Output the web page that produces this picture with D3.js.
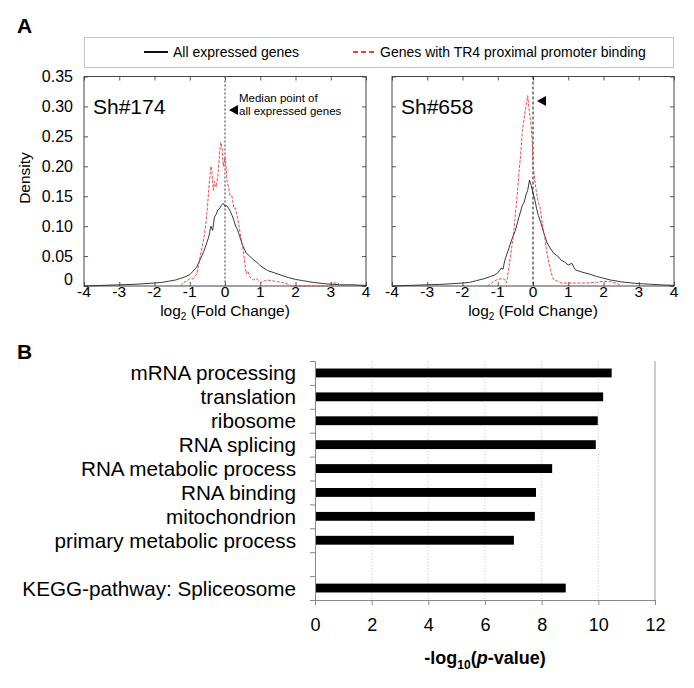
<!DOCTYPE html>
<html>
<head>
<meta charset="utf-8">
<script src="https://cdn.jsdelivr.net/npm/d3@7"></script>
<style>
  body { margin: 0; background: #fff; }
  svg { font-family: "Liberation Sans", Arial, sans-serif; display: block; }
</style>
</head>
<body>
<div id="chart"></div>
<script>
// ---- data ----
let densityTicks = [0, 0.05, 0.10, 0.15, 0.20, 0.25, 0.30, 0.35];
let foldTicks = [-4, -3, -2, -1, 0, 1, 2, 3, 4];

let sh174All = [[-4,0],[-3.5,0.001],[-3,0.002],[-2.5,0.003],[-2,0.005],[-1.8,0.006],[-1.6,0.008],[-1.4,0.01],[-1.3,0.012],[-1.2,0.014],
  [-1.1,0.016],[-1.0,0.019],[-0.9,0.025],[-0.8,0.032],[-0.7,0.045],[-0.6,0.058],[-0.5,0.075],[-0.45,0.085],[-0.4,0.1],[-0.35,0.093],
  [-0.3,0.115],[-0.25,0.12],[-0.2,0.127],[-0.15,0.13],[-0.1,0.135],[-0.05,0.138],[0,0.133],[0.05,0.134],[0.1,0.13],[0.15,0.125],
  [0.2,0.118],[0.25,0.11],[0.3,0.1],[0.35,0.095],[0.4,0.086],[0.5,0.068],[0.6,0.055],[0.7,0.05],[0.8,0.044],[0.9,0.04],
  [1.0,0.034],[1.2,0.026],[1.4,0.022],[1.6,0.018],[1.8,0.014],[2.0,0.011],[2.2,0.009],[2.5,0.006],[2.8,0.004],[3.0,0.003],
  [3.3,0.002],[3.6,0.002],[4,0.001]];
let sh174TR4 = [[-1.25,0],[-1.2,0.005],[-1.1,0.008],[-1.0,0.012],[-0.9,0.012],[-0.8,0.02],[-0.75,0.035],[-0.7,0.05],[-0.65,0.065],[-0.6,0.08],
  [-0.55,0.1],[-0.5,0.13],[-0.45,0.17],[-0.4,0.2],[-0.37,0.19],[-0.33,0.16],[-0.3,0.175],[-0.25,0.165],[-0.2,0.185],[-0.15,0.225],
  [-0.12,0.24],[-0.08,0.23],[-0.05,0.2],[0,0.215],[0.03,0.2],[0.06,0.175],[0.1,0.165],[0.15,0.15],[0.2,0.15],[0.25,0.13],
  [0.3,0.13],[0.35,0.115],[0.4,0.1],[0.45,0.08],[0.5,0.065],[0.55,0.045],[0.6,0.02],[0.65,0.025],[0.7,0.015],[0.8,0.01],
  [0.9,0.012],[1.0,0.006],[1.1,0.008],[1.2,0.01],[1.4,0.008],[1.6,0.006],[1.8,0.003],[1.9,0],[2.9,0],[3.0,0.005],[3.2,0.005],[3.3,0]];
let sh658All = [[-4,0],[-3.5,0.001],[-3,0.002],[-2.5,0.003],[-2,0.005],[-1.8,0.006],[-1.6,0.009],[-1.4,0.012],[-1.2,0.016],[-1.1,0.018],
  [-1.0,0.022],[-0.9,0.03],[-0.85,0.028],[-0.8,0.043],[-0.7,0.06],[-0.6,0.078],[-0.5,0.093],[-0.4,0.115],[-0.3,0.135],[-0.25,0.14],
  [-0.2,0.152],[-0.15,0.16],[-0.1,0.177],[-0.05,0.168],[0,0.155],[0.05,0.145],[0.1,0.13],[0.15,0.118],[0.2,0.11],[0.3,0.09],
  [0.4,0.072],[0.5,0.062],[0.6,0.054],[0.7,0.05],[0.8,0.043],[0.9,0.04],[1.0,0.035],[1.1,0.038],[1.2,0.027],[1.4,0.023],
  [1.6,0.02],[1.8,0.016],[2.0,0.013],[2.2,0.01],[2.5,0.007],[2.8,0.005],[3.0,0.004],[3.3,0.003],[3.6,0.002],[4,0.001]];
let sh658TR4 = [[-1.3,0],[-1.2,0.004],[-1.1,0.008],[-1.0,0.011],[-0.9,0.012],[-0.8,0.011],[-0.75,0.005],[-0.7,0.025],[-0.65,0.045],[-0.6,0.066],
  [-0.55,0.09],[-0.5,0.12],[-0.45,0.15],[-0.4,0.188],[-0.35,0.22],[-0.3,0.26],[-0.25,0.28],[-0.2,0.3],[-0.15,0.318],[-0.12,0.3],
  [-0.1,0.29],[-0.05,0.266],[-0.02,0.24],[0,0.204],[0.05,0.177],[0.1,0.155],[0.15,0.14],[0.2,0.132],[0.25,0.11],[0.3,0.093],
  [0.35,0.075],[0.4,0.054],[0.45,0.04],[0.5,0.027],[0.55,0.015],[0.6,0.01],[0.7,0.008],[0.8,0.005],[1.0,0.005],[1.2,0.005],
  [1.5,0.005],[1.8,0.006],[2.0,0.008],[2.2,0.007],[2.4,0.004],[2.5,0]];

let legendLabels = ['All expressed genes', 'Genes with TR4 proximal promoter binding'];

let terms = ['mRNA processing', 'translation', 'ribosome', 'RNA splicing', 'RNA metabolic process',
             'RNA binding', 'mitochondrion', 'primary metabolic process', '', 'KEGG-pathway: Spliceosome'];
let pValues = [10.47, 10.17, 9.98, 9.91, 8.37, 7.8, 7.76, 7.02, null, 8.85];
let pTicks = [0, 2, 4, 6, 8, 10, 12];

const W = 694, H = 688;
const svg = d3.select('#chart').append('svg').attr('width', W).attr('height', H);

// ---- panel A ----
svg.append('text').attr('x', 17).attr('y', 33).style('font-size', '21px').style('font-weight', 'bold').text('A');

// legend box
let lg = svg.append('g');
lg.append('rect').attr('x', 84.5).attr('y', 37.5).attr('width', 589).attr('height', 30)
  .attr('fill', 'none').attr('stroke', '#c4c4c4');
lg.append('line').attr('x1', 144).attr('x2', 168).attr('y1', 52).attr('y2', 52)
  .attr('stroke', '#111').attr('stroke-width', 2);
lg.append('text').attr('x', 173).attr('y', 57).style('font-size', '14px').text(legendLabels[0]);
lg.append('line').attr('x1', 353).attr('x2', 377).attr('y1', 52).attr('y2', 52)
  .attr('stroke', '#e8412c').attr('stroke-width', 2).attr('stroke-dasharray', '5,3');
lg.append('text').attr('x', 380).attr('y', 57).style('font-size', '14px').text(legendLabels[1]);

const yTop = 76.5, yBot = 286;
let yDen = d3.scaleLinear().domain([0, 0.35]).range([yBot, yTop]);

function drawPanel(x0, x1, allData, tr4Data, name, showY, medianStyle) {
  let xs = d3.scaleLinear().domain([-4, 4]).range([x0, x1]);
  let g = svg.append('g');

  // inward ticks on all four sides
  g.append('g').attr('transform', `translate(0,${yBot})`)
    .call(d3.axisBottom(xs).tickValues(foldTicks).tickSize(-4).tickFormat(''))
    .call(a => a.select('.domain').remove());
  g.append('g').attr('transform', `translate(0,${yTop})`)
    .call(d3.axisTop(xs).tickValues(foldTicks).tickSize(-4).tickFormat(''))
    .call(a => a.select('.domain').remove());
  g.append('g').attr('transform', `translate(${x0},0)`)
    .call(d3.axisLeft(yDen).tickValues(densityTicks).tickSize(-4).tickFormat(''))
    .call(a => a.select('.domain').remove());
  g.append('g').attr('transform', `translate(${x1},0)`)
    .call(d3.axisRight(yDen).tickValues(densityTicks).tickSize(-4).tickFormat(''))
    .call(a => a.select('.domain').remove());
  g.selectAll('.tick line').attr('stroke', '#555');

  g.append('rect').attr('x', x0).attr('y', yTop).attr('width', x1 - x0).attr('height', yBot - yTop)
    .attr('fill', 'none').attr('stroke', '#444');

  // x tick labels
  g.selectAll('.xl').data(foldTicks).enter().append('text')
    .attr('x', d => xs(d)).attr('y', yBot + 11)
    .attr('text-anchor', 'middle').style('font-size', '15.5px')
    .text(d => d < 0 ? '-' + Math.abs(d) : d);

  if (showY) {
    g.selectAll('.yl').data(densityTicks).enter().append('text')
      .attr('x', x0 - 11).attr('y', d => yDen(d) + 5.5 - (d === 0 ? 7 : 0))
      .attr('text-anchor', 'end').style('font-size', '16px')
      .text(d => d === 0 ? '0' : d.toFixed(2));
  }

  // median line
  g.append('line').attr('x1', xs(0)).attr('x2', xs(0)).attr('y1', yTop).attr('y2', yBot)
    .attr('stroke', medianStyle.color).attr('stroke-width', medianStyle.width)
    .attr('stroke-dasharray', medianStyle.dash);

  let line = d3.line().x(d => xs(d[0])).y(d => yDen(d[1]));
  g.append('path').datum(allData).attr('d', line)
    .attr('fill', 'none').attr('stroke', '#222').attr('stroke-width', 0.9);
  g.append('path').datum(tr4Data).attr('d', line)
    .attr('fill', 'none').attr('stroke', '#e53935').attr('stroke-width', 0.9)
    .attr('stroke-dasharray', '3,1.5');

  g.append('text').attr('x', x0 + 9).attr('y', 114).style('font-size', '21px').text(name);

  let xt = g.append('text').attr('x', (x0 + x1) / 2).attr('y', 316)
    .attr('text-anchor', 'middle').style('font-size', '15.5px');
  xt.append('tspan').text('log');
  xt.append('tspan').attr('dy', 4).style('font-size', '10px').text('2');
  xt.append('tspan').attr('dy', -4).text(' (Fold Change)');
  return xs;
}

let xsL = drawPanel(84, 366, sh174All, sh174TR4, 'Sh#174', true, { color: '#777', width: 1.5, dash: '2,2' });
let xsR = drawPanel(392, 674, sh658All, sh658TR4, 'Sh#658', false, { color: '#111', width: 1, dash: '3,2' });

svg.append('text').attr('transform', 'translate(30,178) rotate(-90)')
  .attr('text-anchor', 'middle').style('font-size', '15.5px').text('Density');

// median arrow + note
svg.append('path').attr('d', `M${xsL(0) + 4},110 L${xsL(0) + 13},105 L${xsL(0) + 13},115 Z`).attr('fill', '#000');
svg.append('text').attr('x', 239).attr('y', 102).style('font-size', '11.5px').text('Median point of');
svg.append('text').attr('x', 239).attr('y', 115).style('font-size', '11.5px').text('all expressed genes');
svg.append('path').attr('d', `M${xsR(0) + 4},101 L${xsR(0) + 13},96 L${xsR(0) + 13},106 Z`).attr('fill', '#000');

// ---- panel B ----
svg.append('text').attr('x', 17).attr('y', 359).style('font-size', '21px').style('font-weight', 'bold').text('B');

const bx0 = 315, bx1 = 655, by0 = 361, by1 = 600;
let xb = d3.scaleLinear().domain([0, 12]).range([bx0, bx1]);
let yb = d3.scaleBand().domain(d3.range(terms.length)).range([by0, by1]).paddingInner(0.63).paddingOuter(0.315);

// dotted grid
svg.append('g').selectAll('line').data(pTicks.filter(d => d > 0 && d < 12)).enter().append('line')
  .attr('x1', d => xb(d)).attr('x2', d => xb(d)).attr('y1', by0).attr('y2', by1)
  .attr('stroke', '#ccc').attr('stroke-dasharray', '1,2');
svg.append('line').attr('x1', bx1).attr('x2', bx1).attr('y1', by0).attr('y2', by1).attr('stroke', '#999');

svg.append('g').selectAll('rect').data(pValues.map((v, i) => [i, v]).filter(d => d[1] !== null)).enter()
  .append('rect')
  .attr('x', xb(0)).attr('y', d => yb(d[0]))
  .attr('width', d => xb(d[1]) - xb(0)).attr('height', yb.bandwidth())
  .attr('fill', '#000');

// y axis with ticks at band edges
let yEdge = d3.scaleLinear().domain([0, terms.length]).range([by0, by1]);
let ya = svg.append('g').attr('transform', `translate(${bx0},0)`)
  .call(d3.axisLeft(yEdge).tickValues(d3.range(terms.length + 1)).tickSize(5).tickFormat(''));
ya.selectAll('line, path').attr('stroke', '#888');

svg.append('g').selectAll('text').data(terms).enter().append('text')
  .attr('x', 296).attr('y', (d, i) => yb(i) + yb.bandwidth() / 2 + 7.5)
  .attr('text-anchor', 'end').style('font-size', '20.7px')
  .text(d => d);

let xa = svg.append('g').attr('transform', `translate(0,${by1})`)
  .call(d3.axisBottom(xb).tickValues(pTicks).tickSize(5).tickPadding(13));
xa.selectAll('line, path').attr('stroke', '#888');
xa.selectAll('text').style('font-size', '18px').style('font-family', '"Liberation Sans", Arial, sans-serif').attr('fill', '#000');

let bt = svg.append('text').attr('x', (bx0 + bx1) / 2).attr('y', 664)
  .attr('text-anchor', 'middle').style('font-size', '18px').style('font-weight', 'bold');
bt.append('tspan').text('-log');
bt.append('tspan').attr('dy', 5).style('font-size', '12px').text('10');
bt.append('tspan').attr('dy', -5).text('(');
bt.append('tspan').style('font-style', 'italic').text('p');
bt.append('tspan').text('-value)');
</script>
</body>
</html>
